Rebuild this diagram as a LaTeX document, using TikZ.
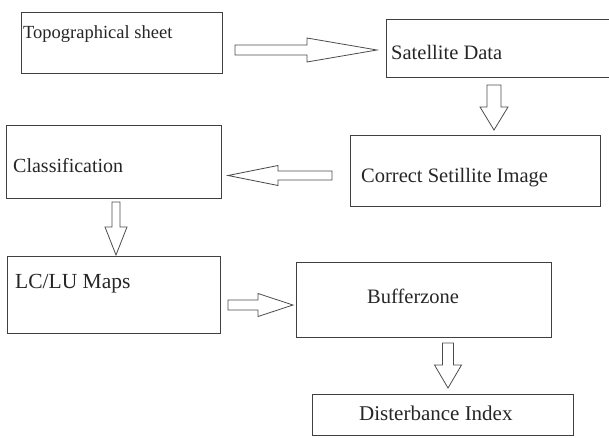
\documentclass[tikz,border=0pt]{standalone}
\usepackage{fontspec}
\setmainfont{Liberation Serif}
\usetikzlibrary{calc,fit}

\tikzset{
  box/.style={draw=black!75, line width=0.9pt, inner sep=0pt},
  boxtext/.style={anchor=base west, inner sep=0pt, text=black!85,
    font=\fontsize{#1}{24}\selectfont},
  boxtext/.default=20.5,
  % hollow block arrow: shaft half width, head half width, head length
  hollow/.style n args={3}{draw=black!70, line width=0.8pt, to path={
      ($(\tikztostart)!#1!90:(\tikztotarget)$)
      -- ($(\tikztotarget)!#3!(\tikztostart)!#1!-90:(\tikztostart)$)
      -- ($(\tikztotarget)!#3!(\tikztostart)!#2!-90:(\tikztostart)$)
      -- (\tikztotarget)
      -- ($(\tikztotarget)!#3!(\tikztostart)!#2!90:(\tikztostart)$)
      -- ($(\tikztotarget)!#3!(\tikztostart)!#1!90:(\tikztostart)$)
      -- ($(\tikztostart)!#1!-90:(\tikztotarget)$)
      -- cycle}}
}

\begin{document}
\begin{tikzpicture}[x=1pt, y=1pt]
  \useasboundingbox (0,0) rectangle (609,-437);

  % Boxes
  \node[box, fit={(21,-12) (222,-73)}] (topo) {};
  \node[box, fit={(386,-19) (615,-77)}] (sat) {};
  \node[box, fit={(6,-125) (221,-198)}] (class) {};
  \node[box, fit={(350,-135) (600,-206)}] (corr) {};
  \node[box, fit={(7,-256) (220,-333)}] (lclu) {};
  \node[box, fit={(296,-262) (551,-337)}] (buff) {};
  \node[box, fit={(312,-394) (573,-435)}] (dist) {};

  % Texts
  \node[boxtext=18.5] (topotext) at (23,-38) {Topographical sheet};
  \node[boxtext] (sattext) at (391,-59) {Satellite Data};
  \node[boxtext=20] (classtext) at (13,-172) {Classification};
  \node[boxtext] (corrtext) at (361,-182) {Correct Setillite Image};
  \node[boxtext=21.5] (lclutext) at (15,-288) {LC/LU Maps};
  \node[boxtext] (bufftext) at (367,-303) {Bufferzone};
  \node[boxtext=21] (disttext) at (359,-420) {Disterbance Index};

  % Arrow ends
  \coordinate (a1s) at (235,-50);    \coordinate (a1e) at (377,-50);
  \coordinate (a2s) at (494,-85);    \coordinate (a2e) at (494,-130);
  \coordinate (a3s) at (332,-175.5); \coordinate (a3e) at (228,-175.5);
  \coordinate (a4s) at (116,-202);   \coordinate (a4e) at (116,-255);
  \coordinate (a5s) at (228,-305);   \coordinate (a5e) at (293,-305);
  \coordinate (a6s) at (448,-343);   \coordinate (a6e) at (448,-388);

  % Arrows
  \draw[hollow={5pt}{12pt}{70pt}] (a1s) to (a1e);
  \draw[hollow={7pt}{14pt}{23pt}] (a2s) to (a2e);
  \draw[hollow={4.5pt}{10pt}{50pt}] (a3s) to (a3e);
  \draw[hollow={4pt}{11pt}{28pt}] (a4s) to (a4e);
  \draw[hollow={5pt}{11.5pt}{35pt}] (a5s) to (a5e);
  \draw[hollow={5.5pt}{13.5pt}{23pt}] (a6s) to (a6e);
\end{tikzpicture}
\end{document}
